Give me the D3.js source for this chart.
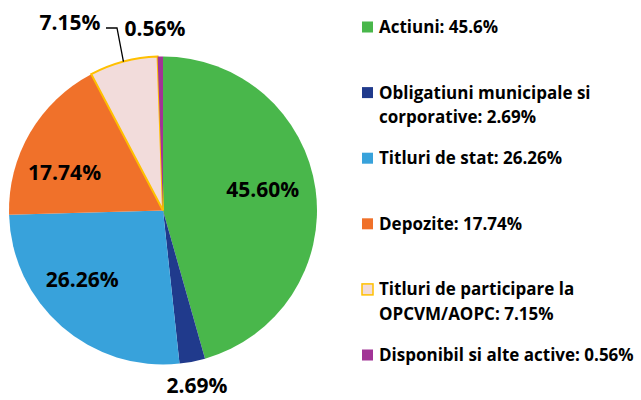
<!DOCTYPE html>
<html><head><meta charset="utf-8">
<script src="https://cdn.jsdelivr.net/npm/d3@7"></script>
<style>body{margin:0;background:#fff}svg{display:block}text{font-family:"Open Sans",Lato,sans-serif;font-weight:bold;fill:#000}</style>
</head><body><svg id="c" width="641" height="400"></svg>
<script>
const categories = ["Actiuni", "Obligatiuni municipale si corporative", "Titluri de stat", "Depozite", "Titluri de participare la OPCVM/AOPC", "Disponibil si alte active"];
const values = [45.60, 2.69, 26.26, 17.74, 7.15, 0.56];
const sliceLabels = ["45.60%", "2.69%", "26.26%", "17.74%", "7.15%", "0.56%"];
const legendLines = [["Actiuni: 45.6%"], ["Obligatiuni municipale si", "corporative: 2.69%"], ["Titluri de stat: 26.26%"], ["Depozite: 17.74%"], ["Titluri de participare la", "OPCVM/AOPC: 7.15%"], ["Disponibil si alte active: 0.56%"]];

const colors = ["#49B74B", "#203A8C", "#38A2DB", "#F0712A", "#F2DCDB", "#A23496"];
const strokes = ["none", "none", "none", "none", "#FFC000", "none"];

const svg = d3.select("#c");
const cx = 163, cy = 210.5, R = 154;
const g = svg.append("g").attr("transform", `translate(${cx},${cy})`);
const pie = d3.pie().sort(null).value(d => d)(values);
const arc = d3.arc().innerRadius(0).outerRadius(R);
g.selectAll("path.s").data(pie).join("path").attr("class", "s")
  .attr("d", arc).attr("fill", (d, i) => colors[i])
  .attr("stroke", (d, i) => strokes[i]).attr("stroke-width", 2);

const labelFont = 21, legendFont = 17;
// label placement: radius factor along slice mid angle, plus nudge
const labelLayout = [
  {r: 0.66, dx: -1, dy: -8},
  {r: 1.16, dx: 0, dy: -1},
  {r: 0.70, dx: -10, dy: -13},
  {r: 0.62, dx: -16, dy: 10},
  null,
  null
];
pie.forEach((d, i) => {
  const L = labelLayout[i];
  if (!L) return;
  const a = (d.startAngle + d.endAngle) / 2;
  const x = Math.sin(a) * R * L.r + L.dx, y = -Math.cos(a) * R * L.r + L.dy;
  g.append("text").attr("x", x).attr("y", y).attr("text-anchor", "middle")
    .attr("dominant-baseline", "central").attr("font-size", labelFont).text(sliceLabels[i]);
});
// outside labels for small top slices
{
  const d = pie[4];
  const a = (d.startAngle + d.endAngle) / 2;
  const px = Math.sin(a) * R, py = -Math.cos(a) * R;
  const lx = -46, ly = -182.5;
  g.append("path").attr("fill", "none").attr("stroke", "#000").attr("stroke-width", 1.3)
    .attr("d", `M${px},${py} L${lx},${ly} L${lx - 11},${ly}`);
  g.append("text").attr("x", -93).attr("y", -188.5).attr("text-anchor", "middle")
    .attr("dominant-baseline", "central").attr("font-size", labelFont).text(sliceLabels[4]);
  g.append("text").attr("x", -8).attr("y", -182.5).attr("text-anchor", "middle")
    .attr("dominant-baseline", "central").attr("font-size", labelFont).text(sliceLabels[5]);
}

// legend
const lg = svg.append("g");
const legendTop = 21, legendStep = 65.6;
categories.forEach((c, i) => {
  const y0 = legendTop + i * legendStep;
  lg.append("rect").attr("x", 362).attr("y", y0 + 0.5).attr("width", 11).attr("height", 11)
    .attr("fill", colors[i]).attr("stroke", strokes[i] === "none" ? "none" : strokes[i]).attr("stroke-width", 1.5);
  legendLines[i].forEach((t, j) => {
    lg.append("text").attr("x", 379).attr("y", y0 + 12 + j * 24.5).attr("font-size", legendFont).text(t);
  });
});
</script></body></html>
